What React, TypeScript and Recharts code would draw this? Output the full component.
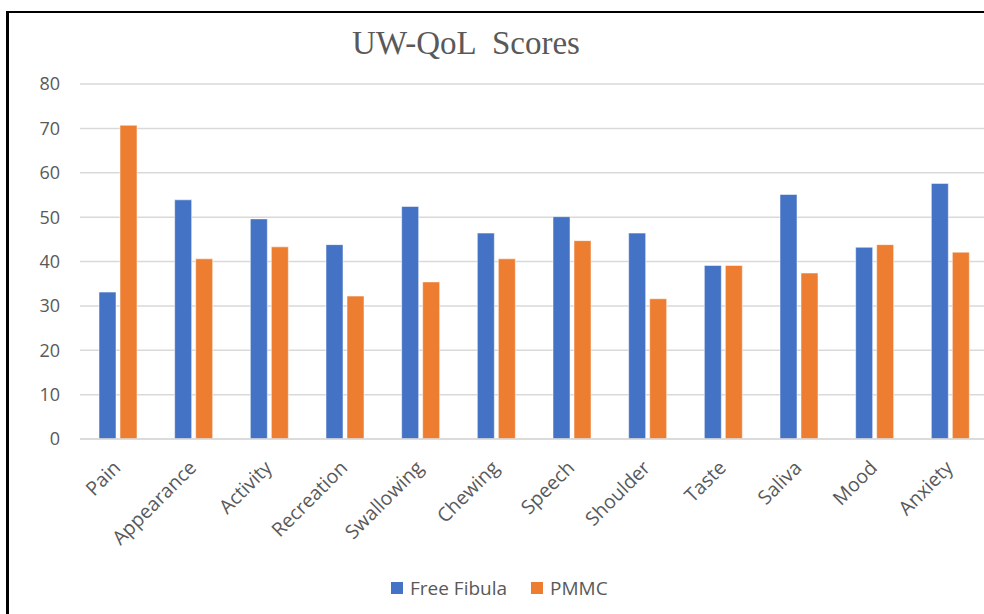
import React from 'react';
import { BarChart, Bar, XAxis, YAxis, CartesianGrid, Legend } from 'recharts';

const categories = [
  'Pain', 'Appearance', 'Activity', 'Recreation', 'Swallowing', 'Chewing',
  'Speech', 'Shoulder', 'Taste', 'Saliva', 'Mood', 'Anxiety',
];
const freeFibula = [33.1, 53.9, 49.6, 43.8, 52.4, 46.4, 50.1, 46.4, 39.1, 55.1, 43.2, 57.6];
const pmmc = [70.7, 40.6, 43.3, 32.2, 35.4, 40.6, 44.7, 31.6, 39.1, 37.4, 43.8, 42.1];
const yTicks = [0, 10, 20, 30, 40, 50, 60, 70, 80];

const BLUE = '#4472C4';
const ORANGE = '#ED7D31';
const TEXT = '#595959';
const FONT = '"Open Sans", sans-serif';

const data = categories.map((name, i) => ({ name, freeFibula: freeFibula[i], pmmc: pmmc[i] }));

const AngledTick = (props: any) => {
  const { x, y, payload } = props;
  return (
    <g transform={`translate(${x + 4},${y + 30}) rotate(-45)`}>
      <text x={0} y={0} textAnchor="end" fill={TEXT} fontSize={19.5} fontFamily={FONT}>
        {payload.value}
      </text>
    </g>
  );
};

const LegendBox = () => (
  <div style={{ display: 'flex', paddingLeft: 391, fontFamily: FONT, fontSize: 19, color: TEXT }}>
    {[
      { label: 'Free Fibula', color: BLUE },
      { label: 'PMMC', color: ORANGE },
    ].map((it) => (
      <div key={it.label} style={{ display: 'flex', alignItems: 'center', marginRight: 24 }}>
        <span style={{ width: 12, height: 12, background: it.color, marginRight: 7, display: 'inline-block' }} />
        <span>{it.label}</span>
      </div>
    ))}
  </div>
);

const App: React.FC = () => {
  return (
    <div style={{ position: 'absolute', left: 0, top: 0, width: 984, height: 614, overflow: 'hidden', background: '#fff' }}>
      <div
        style={{
          position: 'absolute', left: 6, top: 11, width: 1000, height: 700,
          borderLeft: '3px solid #000', borderTop: '2px solid #000',
        }}
      />
      <div
        style={{
          position: 'absolute', left: 0, width: 932, top: 25, textAlign: 'center',
          fontFamily: '"Liberation Serif", serif', fontSize: 33, color: TEXT, whiteSpace: 'pre',
        }}
      >
        {'UW-QoL  Scores'}
      </div>
      <div style={{ position: 'absolute', left: 0, top: 0 }}>
        <BarChart
          width={990}
          height={614}
          data={data}
          margin={{ top: 84, right: 2, left: 0, bottom: 55 }}
          barSize={17}
          barGap={4}
        >
          <CartesianGrid vertical={false} stroke="#d9d9d9" strokeWidth={1.5} />
          <XAxis
            dataKey="name"
            interval={0}
            height={120}
            tickLine={false}
            tickSize={0}
            tickMargin={0}
            axisLine={{ stroke: '#d9d9d9', strokeWidth: 1.5 }}
            tick={<AngledTick />}
          />
          <YAxis
            domain={[0, 80]}
            ticks={yTicks}
            width={80}
            axisLine={false}
            tickLine={false}
            tickSize={0}
            tickMargin={20}
            tick={{ fill: TEXT, fontSize: 18, fontFamily: FONT }}
          />
          <Legend
            verticalAlign="middle"
            content={<LegendBox />}
            wrapperStyle={{ top: 575, left: 0, width: 984 }}
          />
          <Bar dataKey="freeFibula" name="Free Fibula" fill={BLUE} stroke="#ffffff" strokeOpacity={0.5} strokeWidth={1} isAnimationActive={false} />
          <Bar dataKey="pmmc" name="PMMC" fill={ORANGE} stroke="#ffffff" strokeOpacity={0.5} strokeWidth={1} isAnimationActive={false} />
        </BarChart>
      </div>
    </div>
  );
};

export default App;
